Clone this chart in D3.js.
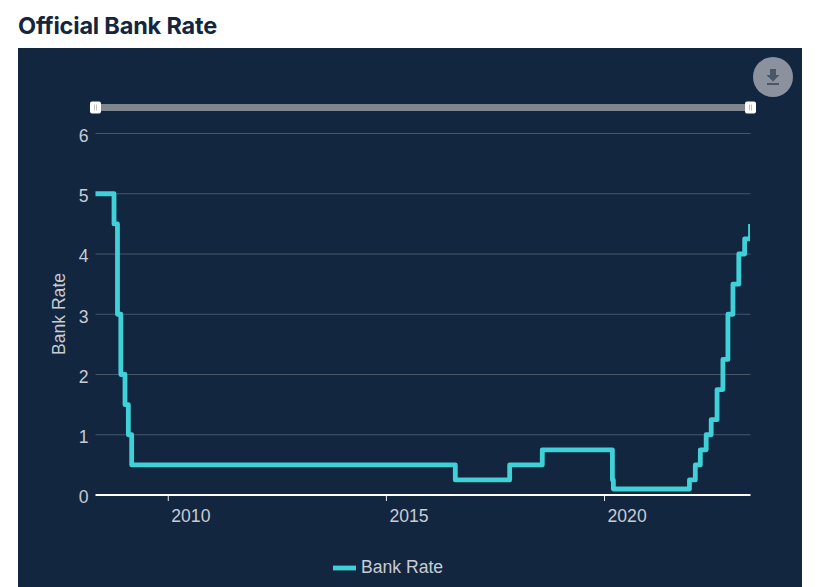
<!DOCTYPE html>
<html><head><meta charset="utf-8">
<script src="https://cdn.jsdelivr.net/npm/d3@7"></script>
<style>html,body{margin:0;padding:0;background:#fff;overflow:hidden}svg{display:block}</style>
</head><body><svg id="c" width="823" height="587"></svg>
<script>
const title = "Official Bank Rate";
const seriesName = "Bank Rate";
const dates = ["2008-04-10","2008-10-08","2008-11-06","2008-12-04","2009-01-08","2009-02-05","2009-03-05","2016-08-04","2017-11-02","2018-08-02","2020-03-11","2020-03-19","2021-12-16","2022-02-03","2022-03-17","2022-05-05","2022-06-16","2022-08-04","2022-09-22","2022-11-03","2022-12-15","2023-02-02","2023-03-23","2023-05-11"];
const rates = [5,4.5,3,2,1.5,1,0.5,0.25,0.5,0.75,0.25,0.1,0.25,0.5,0.75,1,1.25,1.75,2.25,3,3.5,4,4.25,4.5];
const xTickYears = [2010,2015,2020];
const yTicks = [0,1,2,3,4,5,6];
const xDomain = ["2008-05-06","2023-05-11"];

const parse = d3.utcParse("%Y-%m-%d");
const svg = d3.select("#c");
const L=95.5,R=750.5,T=133.5,B=495;
svg.append("rect").attr("x",18).attr("y",48).attr("width",784).attr("height",539).attr("fill","#13263f");
svg.append("text").attr("x",18).attr("y",33.5).text(title)
  .attr("font-family","Inter").attr("font-weight",700).attr("font-size",23.5).attr("letter-spacing",-0.2).attr("fill","#13263f");

const x = d3.scaleUtc().domain(xDomain.map(parse)).range([L,R]);
const y = d3.scaleLinear().domain([0,6]).range([B,T]);
const tickCol="#c8ccd4";
const tickFont=17.6;

const gy = svg.append("g").attr("transform",`translate(${L},0)`)
  .call(d3.axisLeft(y).tickValues(yTicks).tickFormat(d3.format("d")).tickSize(0).tickPadding(7));
gy.select(".domain").remove();
gy.selectAll("text").attr("font-family","Liberation Sans").attr("font-size",tickFont).attr("fill",tickCol).attr("dy","0.45em");
svg.append("g").selectAll("line").data(yTicks.filter(d=>d>0)).join("line")
  .attr("x1",L).attr("x2",R).attr("y1",d=>y(d)).attr("y2",d=>y(d))
  .attr("stroke","#47566b").attr("stroke-width",1);

const gx = svg.append("g").attr("transform",`translate(0,${B})`)
  .call(d3.axisBottom(x).tickValues(xTickYears.map(v=>new Date(Date.UTC(v,0,1)))).tickFormat(d3.utcFormat("%Y")).tickSize(6));
gx.select(".domain").remove();
gx.selectAll("line").attr("stroke","#e8eaee").attr("stroke-width",1);
gx.selectAll("text").attr("font-family","Liberation Sans").attr("font-size",tickFont).attr("fill",tickCol).attr("text-anchor","start").attr("x",3).attr("y",14.5);
svg.append("line").attr("x1",L).attr("x2",R).attr("y1",B).attr("y2",B).attr("stroke","#fff").attr("stroke-width",2);

svg.append("text").attr("transform",`translate(65,314) rotate(-90)`).attr("text-anchor","middle")
  .text(seriesName).attr("font-family","Liberation Sans").attr("font-size",tickFont).attr("fill",tickCol);

svg.append("defs").append("clipPath").attr("id","plot").append("rect")
  .attr("x",L).attr("y",T-10).attr("width",R-L-0.5).attr("height",B-T+20);
const pts = dates.map((d,i)=>({d:parse(d),v:rates[i]}));
svg.append("path").datum(pts).attr("clip-path","url(#plot)")
  .attr("fill","none").attr("stroke","#3fd0d8").attr("stroke-width",4.8).attr("stroke-linejoin","round")
  .attr("d",d3.line().x(d=>x(d.d)).y(d=>y(d.v)).curve(d3.curveStepAfter));

// range slider
svg.append("rect").attr("x",L).attr("y",104).attr("width",R-L).attr("height",7).attr("fill","#7f868e");
svg.selectAll(".h").data([L,R]).join("g").attr("transform",d=>`translate(${d},107.5)`).each(function(){
  const g=d3.select(this);
  g.append("rect").attr("x",-5.5).attr("y",-6).attr("width",11).attr("height",12).attr("rx",2).attr("fill","#fff");
  g.selectAll("line").data([-1,1]).join("line").attr("x1",d=>d).attr("x2",d=>d).attr("y1",-3).attr("y2",3).attr("stroke","#aab0b8").attr("stroke-width",0.8);
});

// download button
svg.append("circle").attr("cx",773).attr("cy",77).attr("r",20).attr("fill","#8b929d");
svg.append("path").attr("d","M770 69h6v6h3.5l-6.5 6.5l-6.5-6.5h3.5z").attr("fill","#4a5668");
svg.append("rect").attr("x",767).attr("y",83).attr("width",12).attr("height",2).attr("fill","#4a5668");

// legend
svg.append("line").attr("x1",333).attr("x2",356).attr("y1",568).attr("y2",568).attr("stroke","#3fd0d8").attr("stroke-width",4.8);
svg.append("text").attr("x",361).attr("y",572.7).text(seriesName).attr("font-family","Liberation Sans").attr("font-size",tickFont).attr("fill",tickCol);
</script></body></html>
